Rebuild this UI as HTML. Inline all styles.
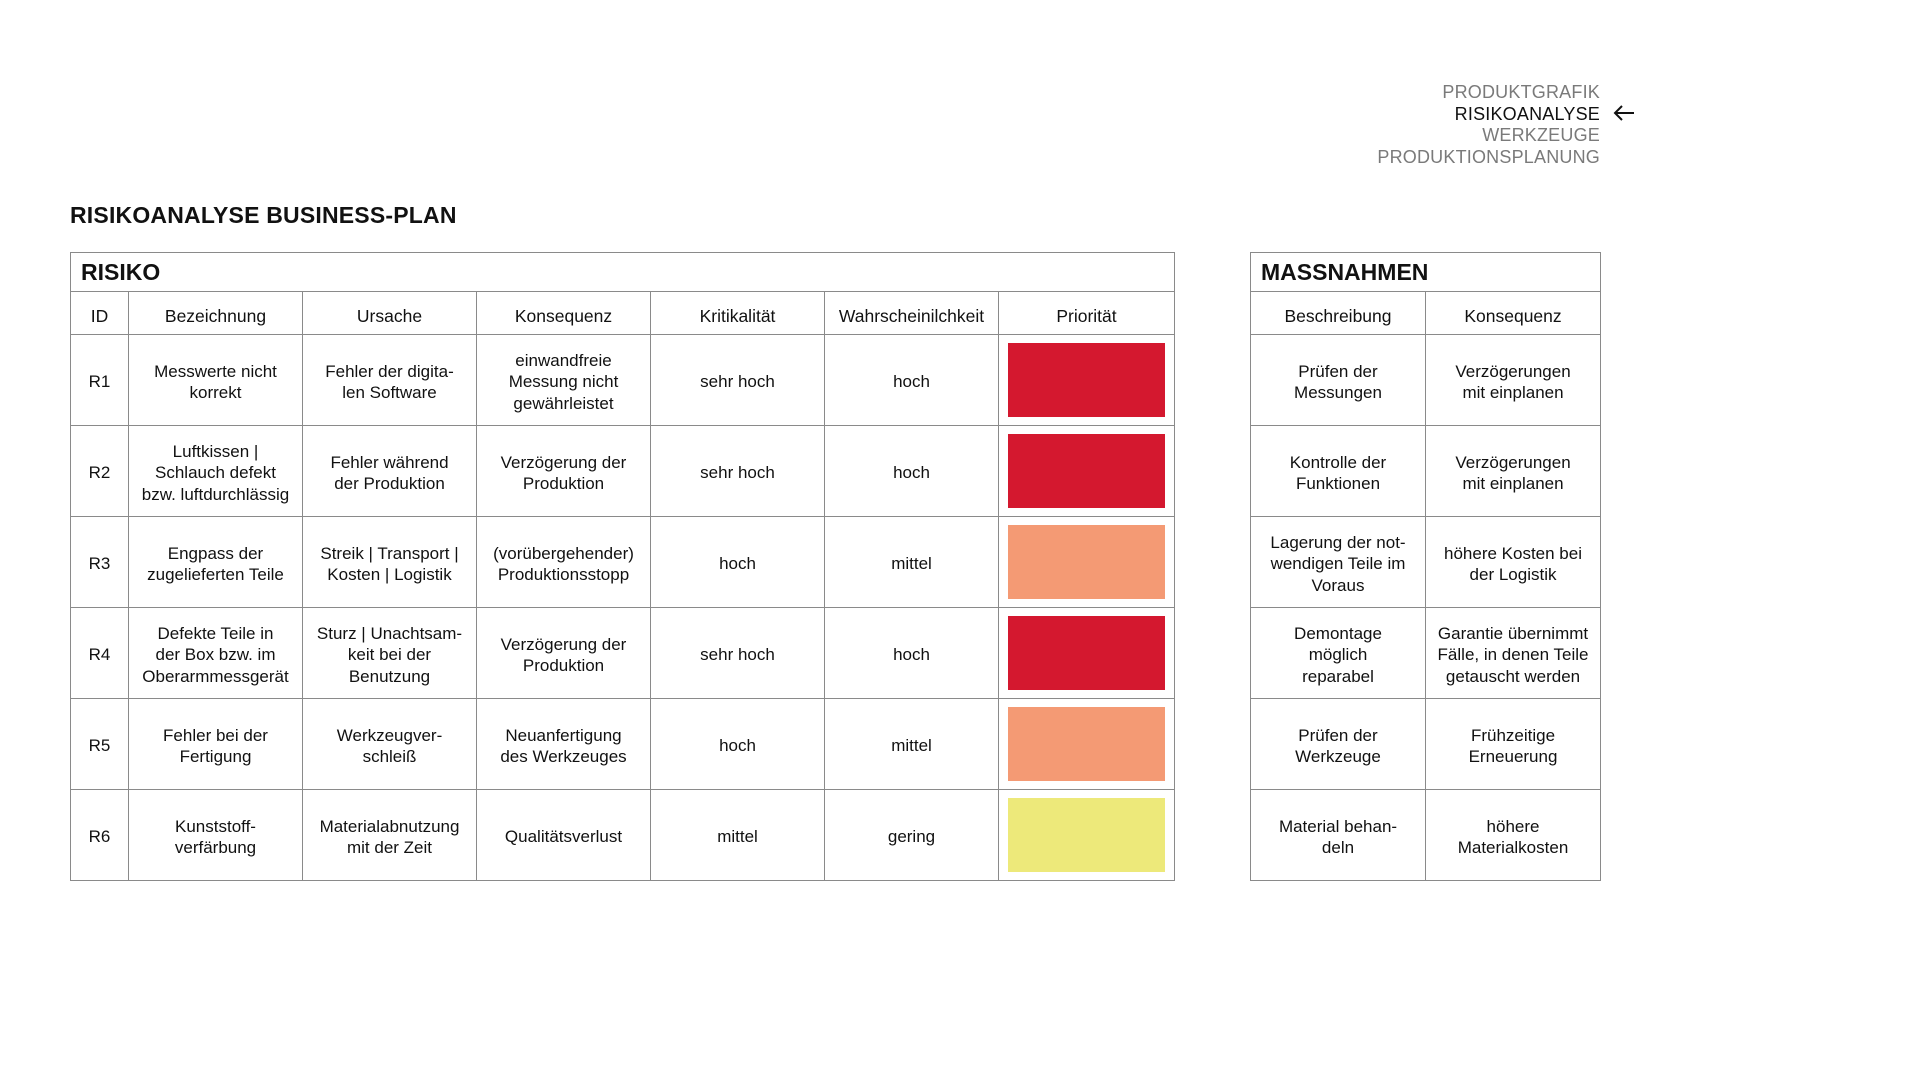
<!DOCTYPE html>
<html><head><meta charset="utf-8"><style>
body{margin:0;width:1920px;height:1080px;background:#fff;font-family:"Liberation Sans",sans-serif;color:#111;position:relative;overflow:hidden}
.nav{position:absolute;right:320px;top:82px;text-align:right;font-size:18px;line-height:21.5px;color:#7a7a7a;letter-spacing:0.2px}
.nav .cur{color:#111}
.arrow{position:absolute;left:1612px;top:104px}
h1{position:absolute;left:70px;top:202px;margin:0;font-size:23px;font-weight:bold;letter-spacing:0.2px}
table{position:absolute;border-collapse:collapse;table-layout:fixed}
td{border:1.5px solid #8a8a8a;text-align:center;vertical-align:middle;font-size:17px;line-height:21.5px;padding:0}
td.t{text-align:left;font-weight:bold;font-size:23px;padding-left:10px;height:36px;padding-top:2px}
tr.h td{height:34px;font-size:17.5px;padding-top:8px}
tr.r td{height:86px;padding-top:4px}
tr.r td.p{padding-top:0;height:90px}
.b{display:block;margin:0 auto;width:157px;height:74px}
</style></head><body>
<div class="nav">PRODUKTGRAFIK<br><span class="cur">RISIKOANALYSE</span><br>WERKZEUGE<br>PRODUKTIONSPLANUNG</div>
<svg class="arrow" width="24" height="18" viewBox="0 0 24 18"><path d="M22 9H3M10 2L3 9l7 7" fill="none" stroke="#111" stroke-width="2"/></svg>
<h1>RISIKOANALYSE BUSINESS-PLAN</h1>
<table style="left:70px;top:252px;width:1104px">
<colgroup><col style="width:58px"><col style="width:174px"><col style="width:174px"><col style="width:174px"><col style="width:174px"><col style="width:174px"><col style="width:176px"></colgroup>
<tr><td class="t" colspan="7">RISIKO</td></tr>
<tr class="h"><td>ID</td><td>Bezeichnung</td><td>Ursache</td><td>Konsequenz</td><td>Kritikalität</td><td>Wahrscheinilchkeit</td><td>Priorität</td></tr>
<tr class="r"><td>R1</td><td>Messwerte nicht<br>korrekt</td><td>Fehler der digita-<br>len Software</td><td>einwandfreie<br>Messung nicht<br>gewährleistet</td><td>sehr hoch</td><td>hoch</td><td class="p"><div class="b" style="background:#d4182f"></div></td></tr>
<tr class="r"><td>R2</td><td>Luftkissen |<br>Schlauch defekt<br>bzw. luftdurchlässig</td><td>Fehler während<br>der Produktion</td><td>Verzögerung der<br>Produktion</td><td>sehr hoch</td><td>hoch</td><td class="p"><div class="b" style="background:#d4182f"></div></td></tr>
<tr class="r"><td>R3</td><td>Engpass der<br>zugelieferten Teile</td><td>Streik | Transport |<br>Kosten | Logistik</td><td>(vorübergehender)<br>Produktionsstopp</td><td>hoch</td><td>mittel</td><td class="p"><div class="b" style="background:#f49a74"></div></td></tr>
<tr class="r"><td>R4</td><td>Defekte Teile in<br>der Box bzw. im<br>Oberarmmessgerät</td><td>Sturz | Unachtsam-<br>keit bei der<br>Benutzung</td><td>Verzögerung der<br>Produktion</td><td>sehr hoch</td><td>hoch</td><td class="p"><div class="b" style="background:#d4182f"></div></td></tr>
<tr class="r"><td>R5</td><td>Fehler bei der<br>Fertigung</td><td>Werkzeugver-<br>schleiß</td><td>Neuanfertigung<br>des Werkzeuges</td><td>hoch</td><td>mittel</td><td class="p"><div class="b" style="background:#f49a74"></div></td></tr>
<tr class="r"><td>R6</td><td>Kunststoff-<br>verfärbung</td><td>Materialabnutzung<br>mit der Zeit</td><td>Qualitätsverlust</td><td>mittel</td><td>gering</td><td class="p"><div class="b" style="background:#ede97a"></div></td></tr>
</table>
<table style="left:1250px;top:252px;width:350px">
<colgroup><col style="width:175px"><col style="width:175px"></colgroup>
<tr><td class="t" colspan="2">MASSNAHMEN</td></tr>
<tr class="h"><td>Beschreibung</td><td>Konsequenz</td></tr>
<tr class="r"><td>Prüfen der<br>Messungen</td><td>Verzögerungen<br>mit einplanen</td></tr>
<tr class="r"><td>Kontrolle der<br>Funktionen</td><td>Verzögerungen<br>mit einplanen</td></tr>
<tr class="r"><td>Lagerung der not-<br>wendigen Teile im<br>Voraus</td><td>höhere Kosten bei<br>der Logistik</td></tr>
<tr class="r"><td>Demontage<br>möglich<br>reparabel</td><td>Garantie übernimmt<br>Fälle, in denen Teile<br>getauscht werden</td></tr>
<tr class="r"><td>Prüfen der<br>Werkzeuge</td><td>Frühzeitige<br>Erneuerung</td></tr>
<tr class="r"><td>Material behan-<br>deln</td><td>höhere<br>Materialkosten</td></tr>
</table>
</body></html>
